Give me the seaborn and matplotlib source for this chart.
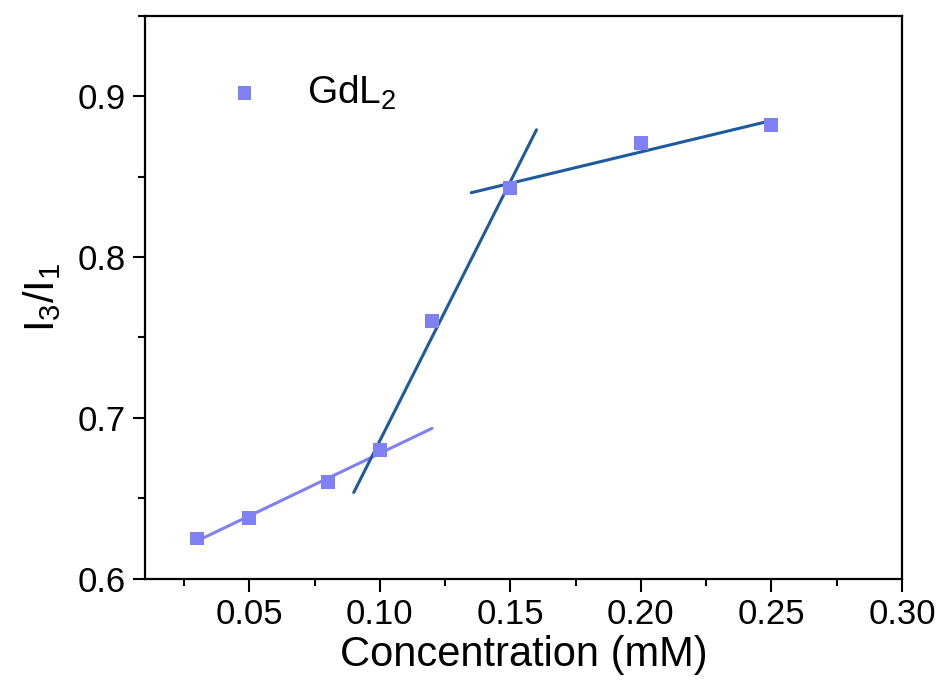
import numpy as np
import pandas as pd
import matplotlib
matplotlib.use("Agg")
import matplotlib.pyplot as plt
from matplotlib.ticker import MultipleLocator
import seaborn as sns

# data
conc = [0.03, 0.05, 0.08, 0.10, 0.12, 0.15, 0.20, 0.25]
ratio = [0.625, 0.638, 0.660, 0.680, 0.760, 0.843, 0.871, 0.882]

# linear fits: which points go into each fit, and how far each line is drawn
fit_points = [[0.03, 0.05, 0.08, 0.10], [0.10, 0.12, 0.15], [0.15, 0.20, 0.25]]
fit_ranges = [[0.03, 0.12], [0.09, 0.16], [0.135, 0.25]]
fit_colors = ["#8080f5", "#1f5b9c", "#1f5b9c"]

sns.set_theme(style="ticks")
plt.rcParams["font.family"] = ["Liberation Sans", "DejaVu Sans"]
plt.rcParams["mathtext.fontset"] = "custom"
plt.rcParams["mathtext.rm"] = "Liberation Sans"
plt.rcParams["mathtext.it"] = "Liberation Sans"
plt.rcParams["text.color"] = "black"

df = pd.DataFrame({"conc": conc, "ratio": ratio})

fig = plt.figure(figsize=(9.41, 6.99), dpi=100)
ax = fig.add_axes([0.154, 0.172, 0.8045, 0.8055])

# fitted lines
for pts, rng, col in zip(fit_points, fit_ranges, fit_colors):
    sub = df[df["conc"].isin(pts)]
    k, b = np.polyfit(sub["conc"], sub["ratio"], 1)
    line = pd.DataFrame({"x": rng, "y": [k * v + b for v in rng]})
    sns.lineplot(data=line, x="x", y="y", color=col, linewidth=2.2, ax=ax)

sns.scatterplot(data=df, x="conc", y="ratio", marker="s", s=100, color="#8080f5",
                edgecolor="none", label="GdL$_2$", ax=ax, zorder=3)

ax.set_xlim(0.01, 0.30)
ax.set_ylim(0.6, 0.95)
ax.xaxis.set_minor_locator(MultipleLocator(0.025))
ax.yaxis.set_minor_locator(MultipleLocator(0.05))
ax.set_xticks([0.05, 0.10, 0.15, 0.20, 0.25, 0.30])
ax.set_xticklabels(["0.05", "0.10", "0.15", "0.20", "0.25", "0.30"])
ax.set_yticks([0.6, 0.7, 0.8, 0.9])
ax.set_yticklabels(["0.6", "0.7", "0.8", "0.9"])

ax.tick_params(which="major", direction="out", length=9, width=1.5, labelsize=25,
               color="black", labelcolor="black", pad=5)
ax.tick_params(which="minor", direction="out", length=5, width=1.5, color="black")
for s in ax.spines.values():
    s.set_linewidth(1.6)
    s.set_color("black")

ax.set_xlabel("Concentration (mM)", fontsize=30, labelpad=3, color="black")
ax.set_ylabel("I$_3$/I$_1$", fontsize=30, labelpad=10, color="black")

leg = ax.legend(loc="upper left", bbox_to_anchor=(0.034, 0.96), frameon=False,
                fontsize=28, handletextpad=0.6, markerscale=1.0)
for t in leg.get_texts():
    t.set_color("black")

fig.savefig("out.png", dpi=100)
